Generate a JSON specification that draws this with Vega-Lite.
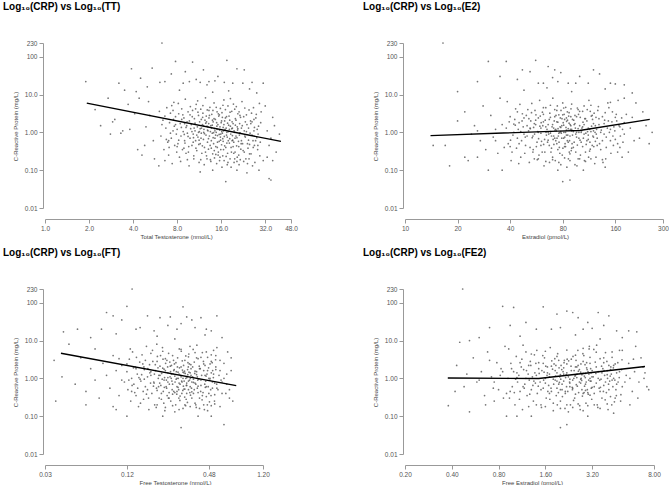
{
  "$schema": "https://vega.github.io/schema/vega-lite/v6.json",
  "padding": {"left": 3, "top": 2, "right": 0, "bottom": 0},
  "background": "white",
  "config": {
    "view": {"stroke": null},
    "font": "Liberation Sans",
    "title": {"fontSize": 10, "font": "Liberation Sans", "fontWeight": "bold", "anchor": "start", "frame": "group", "dx": -42, "offset": 28, "color": "#000"},
    "axis": {"domainColor": "#999", "tickColor": "#999", "tickSize": 4, "labelFontSize": 6.5, "labelColor": "#555", "titleFontSize": 6, "titleFontWeight": "normal", "titleColor": "#444", "labelFont": "Liberation Sans", "titleFont": "Liberation Sans", "grid": false, "labelPadding": 2, "labelFlush": false, "labelOverlap": false},
    "axisY": {"offset": 2, "titleX": -28, "titleY": 83, "titleAngle": -90, "titleBaseline": "middle", "titleAlign": "center"},
    "axisX": {"offset": 11, "titleY": 17, "titleBaseline": "middle", "titleAlign": "center"}
  },
  "datasets": {
    "tt": [
      {"x":6.3,"y":230},{"x":7.8,"y":75},{"x":10.2,"y":72},{"x":17.5,"y":80},{"x":3.9,"y":48},{"x":5.4,"y":50},{"x":12.1,"y":45},{"x":9.1,"y":40},{"x":20.5,"y":48},{"x":23,"y":45},{"x":7.3,"y":35},{"x":15.2,"y":30},{"x":4.5,"y":27},{"x":6.1,"y":21},{"x":6.6,"y":22},{"x":8.8,"y":20},{"x":9.7,"y":22},{"x":11.5,"y":21},{"x":13.2,"y":22},{"x":14.5,"y":23},{"x":16.8,"y":21},{"x":19.2,"y":20},{"x":22.5,"y":20},{"x":26,"y":21},{"x":31,"y":20},{"x":3.2,"y":20},{"x":1.9,"y":22},{"x":10.8,"y":25},{"x":12.8,"y":18},{"x":5.0,"y":16},{"x":25,"y":14},{"x":8.3,"y":13},{"x":4.2,"y":12},{"x":18,"y":12.5},{"x":28,"y":11},{"x":14,"y":11.5},{"x":2.7,"y":8},{"x":3.5,"y":13},
      {"x":17.2,"y":0.05},{"x":34,"y":0.06},{"x":35,"y":0.055},{"x":11.5,"y":0.09},{"x":24,"y":0.085},{"x":36,"y":0.18},{"x":29,"y":0.1},{"x":14,"y":0.1},{"x":6,"y":0.13},{"x":20.5,"y":0.1},
      {"x":2.8,"y":0.9},{"x":3.0,"y":2.2},{"x":2.4,"y":1.5},{"x":3.4,"y":1.1},{"x":2.9,"y":1.9},{"x":3.7,"y":5.5},{"x":4.3,"y":0.35},{"x":4.6,"y":0.25},{"x":4.8,"y":0.45},{"x":5.2,"y":2.8},{"x":4.1,"y":3.1},{"x":5.5,"y":0.6},{"x":3.8,"y":1.2},{"x":4.4,"y":8},{"x":5.1,"y":6.5},{"x":5.6,"y":0.2},{"x":4.9,"y":1.4},{"x":3.3,"y":0.95},{"x":2.2,"y":4},
      {"x":33,"y":1.1},{"x":35,"y":0.7},{"x":36,"y":2.5},{"x":32,"y":5},{"x":38,"y":0.3},{"x":34,"y":0.45},{"x":31,"y":0.18},{"x":37,"y":1.5},{"x":30,"y":3.5},{"x":33,"y":0.22},{"x":40,"y":0.9},
      {"x":6.2,"y":0.8},{"x":6.4,"y":2.1},{"x":6.5,"y":0.35},{"x":6.7,"y":1.3},{"x":6.8,"y":4.5},{"x":6.9,"y":0.55},{"x":7.0,"y":0.25},{"x":7.1,"y":1.8},{"x":7.2,"y":3.2},{"x":7.3,"y":0.7},{"x":7.4,"y":0.15},{"x":7.5,"y":1.1},{"x":7.6,"y":6.2},{"x":7.7,"y":0.45},{"x":7.8,"y":2.6},{"x":7.9,"y":0.9},{"x":6.3,"y":1.6},{"x":6.6,"y":0.18},{"x":7.05,"y":0.4},{"x":7.35,"y":5.1},{"x":7.65,"y":1.45},{"x":7.95,"y":0.3},{"x":6.05,"y":3.6},{"x":6.75,"y":0.65},{"x":7.55,"y":2.2},
      {"x":8.0,"y":1.2},{"x":8.1,"y":0.5},{"x":8.2,"y":3.1},{"x":8.3,"y":0.22},{"x":8.4,"y":1.7},{"x":8.5,"y":0.8},{"x":8.6,"y":4.2},{"x":8.7,"y":0.35},{"x":8.8,"y":1.05},{"x":8.9,"y":2.4},{"x":9.0,"y":0.6},{"x":9.1,"y":7.5},{"x":9.2,"y":0.28},{"x":9.3,"y":1.5},{"x":9.4,"y":0.95},{"x":9.5,"y":3.5},{"x":9.6,"y":0.42},{"x":9.7,"y":2.0},{"x":9.8,"y":0.7},{"x":9.9,"y":1.25},{"x":8.15,"y":5.8},{"x":8.45,"y":0.17},{"x":8.75,"y":2.9},{"x":9.05,"y":0.52},{"x":9.35,"y":1.9},{"x":9.65,"y":0.13},{"x":9.85,"y":4.8},{"x":8.55,"y":1.35},{"x":8.95,"y":0.88},{"x":9.55,"y":0.3},
      {"x":10.0,"y":1.6},{"x":10.1,"y":0.45},{"x":10.2,"y":3.8},{"x":10.3,"y":0.9},{"x":10.4,"y":0.2},{"x":10.5,"y":2.3},{"x":10.6,"y":1.1},{"x":10.7,"y":0.6},{"x":10.8,"y":5.5},{"x":10.9,"y":0.33},{"x":11.0,"y":1.4},{"x":11.1,"y":0.75},{"x":11.2,"y":2.8},{"x":11.3,"y":0.16},{"x":11.4,"y":1.9},{"x":11.5,"y":0.5},{"x":11.6,"y":4.1},{"x":11.7,"y":0.95},{"x":11.8,"y":0.28},{"x":11.9,"y":1.6},{"x":12.0,"y":3.2},{"x":12.1,"y":0.65},{"x":12.2,"y":1.2},{"x":12.3,"y":0.4},{"x":12.4,"y":2.1},{"x":12.5,"y":8.2},{"x":12.6,"y":0.85},{"x":12.7,"y":0.24},{"x":12.8,"y":1.45},{"x":12.9,"y":0.55},{"x":10.15,"y":2.6},{"x":10.45,"y":1.3},{"x":10.75,"y":0.38},{"x":11.05,"y":6.8},{"x":11.35,"y":1.05},{"x":11.65,"y":0.7},{"x":11.95,"y":2.5},{"x":12.25,"y":0.14},{"x":12.55,"y":1.75},{"x":12.85,"y":3.9},{"x":10.35,"y":0.72},{"x":11.25,"y":0.48},{"x":12.15,"y":1.0},{"x":12.65,"y":2.7},{"x":11.75,"y":1.3},
      {"x":13.0,"y":1.1},{"x":13.1,"y":0.36},{"x":13.2,"y":2.4},{"x":13.3,"y":0.8},{"x":13.4,"y":4.6},{"x":13.5,"y":0.19},{"x":13.6,"y":1.5},{"x":13.7,"y":0.6},{"x":13.8,"y":3.0},{"x":13.9,"y":0.95},{"x":14.0,"y":0.27},{"x":14.1,"y":1.9},{"x":14.2,"y":0.5},{"x":14.3,"y":6.0},{"x":14.4,"y":1.25},{"x":14.5,"y":0.7},{"x":14.6,"y":2.2},{"x":14.7,"y":0.42},{"x":14.8,"y":1.0},{"x":14.9,"y":0.15},{"x":15.0,"y":3.5},{"x":15.1,"y":0.82},{"x":15.2,"y":1.6},{"x":15.3,"y":0.3},{"x":15.4,"y":2.7},{"x":15.5,"y":0.58},{"x":15.6,"y":1.15},{"x":15.7,"y":0.22},{"x":15.8,"y":4.3},{"x":15.9,"y":0.9},{"x":16.0,"y":1.8},{"x":16.1,"y":0.47},{"x":16.2,"y":0.12},{"x":16.3,"y":2.5},{"x":16.4,"y":0.68},{"x":16.5,"y":1.35},{"x":16.6,"y":0.35},{"x":16.7,"y":7.2},{"x":16.8,"y":0.78},{"x":16.9,"y":2.0},{"x":13.15,"y":1.7},{"x":13.45,"y":0.45},{"x":13.75,"y":1.3},{"x":14.05,"y":3.8},{"x":14.35,"y":0.33},{"x":14.65,"y":0.85},{"x":14.95,"y":1.45},{"x":15.25,"y":0.25},{"x":15.55,"y":2.9},{"x":15.85,"y":0.62},{"x":16.15,"y":1.05},{"x":16.45,"y":5.2},{"x":16.75,"y":0.18},{"x":13.95,"y":2.1},{"x":15.05,"y":0.4},
      {"x":17.0,"y":1.2},{"x":17.2,"y":0.4},{"x":17.4,"y":2.6},{"x":17.6,"y":0.75},{"x":17.8,"y":0.16},{"x":18.0,"y":1.55},{"x":18.2,"y":0.52},{"x":18.4,"y":3.4},{"x":18.6,"y":0.9},{"x":18.8,"y":0.3},{"x":19.0,"y":1.9},{"x":19.2,"y":0.62},{"x":19.4,"y":5.6},{"x":19.6,"y":1.1},{"x":19.8,"y":0.2},{"x":20.0,"y":2.3},{"x":20.2,"y":0.8},{"x":20.4,"y":0.44},{"x":20.6,"y":1.4},{"x":20.8,"y":3.1},{"x":21.0,"y":0.58},{"x":21.2,"y":0.14},{"x":21.4,"y":1.7},{"x":21.6,"y":0.95},{"x":21.8,"y":0.36},{"x":17.1,"y":4.0},{"x":17.5,"y":1.0},{"x":17.9,"y":0.6},{"x":18.3,"y":2.1},{"x":18.7,"y":0.12},{"x":19.1,"y":1.3},{"x":19.5,"y":0.28},{"x":19.9,"y":0.7},{"x":20.3,"y":4.8},{"x":20.7,"y":1.15},{"x":21.1,"y":0.25},{"x":21.5,"y":2.8},{"x":21.9,"y":0.5},{"x":18.5,"y":7.8},{"x":19.3,"y":0.42},{"x":17.7,"y":1.75},{"x":20.5,"y":0.17},{"x":18.9,"y":1.25},{"x":21.3,"y":0.85},{"x":17.3,"y":0.23},
      {"x":22.0,"y":1.3},{"x":22.4,"y":0.5},{"x":22.8,"y":2.6},{"x":23.2,"y":0.8},{"x":23.6,"y":0.2},{"x":24.0,"y":1.6},{"x":24.4,"y":0.38},{"x":24.8,"y":3.9},{"x":25.2,"y":0.95},{"x":25.6,"y":0.27},{"x":26.0,"y":1.9},{"x":26.4,"y":0.6},{"x":26.8,"y":1.1},{"x":27.2,"y":0.16},{"x":27.6,"y":2.4},{"x":28.0,"y":0.72},{"x":28.4,"y":0.35},{"x":28.8,"y":1.45},{"x":29.2,"y":5.8},{"x":29.6,"y":0.55},{"x":22.2,"y":6.5},{"x":23.0,"y":0.3},{"x":23.8,"y":1.05},{"x":24.6,"y":0.62},{"x":25.4,"y":2.0},{"x":26.2,"y":0.13},{"x":27.0,"y":0.45},{"x":27.8,"y":3.0},{"x":28.6,"y":0.9},{"x":29.4,"y":0.24},{"x":25.0,"y":0.48},{"x":26.6,"y":4.5},{"x":23.4,"y":1.9},{"x":24.2,"y":0.15},{"x":28.2,"y":1.2},
      {"x":7.2,"y":0.95},{"x":7.8,"y":1.6},{"x":8.2,"y":0.62},{"x":8.6,"y":2.2},{"x":8.9,"y":0.38},{"x":9.2,"y":1.35},{"x":9.5,"y":0.78},{"x":9.8,"y":2.9},{"x":10.1,"y":1.05},{"x":10.3,"y":0.55},{"x":10.6,"y":1.75},{"x":10.9,"y":0.85},{"x":11.1,"y":3.4},{"x":11.3,"y":0.62},{"x":11.5,"y":1.25},{"x":11.7,"y":2.2},{"x":11.9,"y":0.44},{"x":12.1,"y":1.5},{"x":12.3,"y":0.92},{"x":12.5,"y":0.3},{"x":12.7,"y":1.9},{"x":12.9,"y":1.15},{"x":13.1,"y":0.68},{"x":13.3,"y":2.8},{"x":13.5,"y":1.05},{"x":13.7,"y":0.38},{"x":13.9,"y":1.55},{"x":14.1,"y":0.72},{"x":14.3,"y":2.3},{"x":14.5,"y":1.1},{"x":14.7,"y":0.26},{"x":14.9,"y":1.8},{"x":15.1,"y":0.55},{"x":15.3,"y":3.1},{"x":15.5,"y":0.88},{"x":15.7,"y":1.4},{"x":15.9,"y":0.35},{"x":16.1,"y":2.0},{"x":16.3,"y":0.95},{"x":16.5,"y":0.58},{"x":16.7,"y":1.6},{"x":16.9,"y":0.44},{"x":17.1,"y":2.4},{"x":17.3,"y":1.3},{"x":17.5,"y":0.52},{"x":17.7,"y":0.28},{"x":17.9,"y":1.05},{"x":18.1,"y":2.7},{"x":18.3,"y":0.68},{"x":18.5,"y":1.45},{"x":18.7,"y":0.4},{"x":18.9,"y":3.6},{"x":19.1,"y":0.82},{"x":19.3,"y":1.7},{"x":19.5,"y":0.55},{"x":19.7,"y":1.0},{"x":19.9,"y":0.3},{"x":20.2,"y":2.1},{"x":20.5,"y":0.72},{"x":20.8,"y":1.25},{"x":21.1,"y":0.42},{"x":21.4,"y":0.95},{"x":21.7,"y":2.5},{"x":22.0,"y":0.6},{"x":22.3,"y":1.5},{"x":22.6,"y":0.33},{"x":23.0,"y":1.1},{"x":23.4,"y":0.75},{"x":23.8,"y":2.9},{"x":24.2,"y":0.5},{"x":24.6,"y":1.3},{"x":25.0,"y":0.27},{"x":25.5,"y":1.7},{"x":26.0,"y":0.85},{"x":26.5,"y":0.4},{"x":27.0,"y":1.35},{"x":27.5,"y":0.6},{"x":10.4,"y":0.24},{"x":11.6,"y":0.19},{"x":12.8,"y":0.2},{"x":13.6,"y":0.17},{"x":14.4,"y":0.21},{"x":15.6,"y":0.18},{"x":16.4,"y":0.24},{"x":17.6,"y":0.14},{"x":18.4,"y":0.2},{"x":19.6,"y":0.16},{"x":20.6,"y":0.22},{"x":21.6,"y":0.19},{"x":22.8,"y":0.17},{"x":24.8,"y":0.2},{"x":9.4,"y":0.19},{"x":10.7,"y":4.2},{"x":12.0,"y":5.1},{"x":13.2,"y":3.8},{"x":14.8,"y":4.6},{"x":16.2,"y":3.3},{"x":17.8,"y":5.0},{"x":19.8,"y":4.1},{"x":21.2,"y":3.5},{"x":23.2,"y":4.4},{"x":25.8,"y":3.2},{"x":11.2,"y":1.0},{"x":13.0,"y":1.4},{"x":14.2,"y":0.98},{"x":15.0,"y":1.2},{"x":15.8,"y":0.75},{"x":16.6,"y":1.1},{"x":17.4,"y":0.85},{"x":18.2,"y":1.2},{"x":19.0,"y":0.6},{"x":20.0,"y":1.55},{"x":9.0,"y":1.7},{"x":8.0,"y":0.42},{"x":7.5,"y":3.8},{"x":7.0,"y":0.6},{"x":26.8,"y":2.2},{"x":28.5,"y":0.45},{"x":29.8,"y":1.8},{"x":6.6,"y":2.7}
    ],
    "e2": [
      {"x":16.5,"y":230},{"x":30,"y":75},{"x":38,"y":75},{"x":56,"y":80},{"x":47,"y":45},{"x":52,"y":40},{"x":66,"y":55},{"x":72,"y":45},{"x":78,"y":38},{"x":120,"y":45},{"x":130,"y":35},{"x":35,"y":30},{"x":26,"y":22},{"x":58,"y":20},{"x":62,"y":20},{"x":86,"y":20},{"x":95,"y":20},{"x":112,"y":20},{"x":150,"y":20},{"x":160,"y":19},{"x":180,"y":18},{"x":20,"y":12},{"x":44,"y":25},{"x":70,"y":28},{"x":75,"y":22},{"x":100,"y":30},{"x":140,"y":14},{"x":48,"y":13},{"x":90,"y":12},{"x":200,"y":11},{"x":65,"y":15},
      {"x":80,"y":0.05},{"x":88,"y":0.055},{"x":18,"y":0.13},{"x":30,"y":0.1},{"x":36,"y":0.1},{"x":14.5,"y":0.45},{"x":22,"y":0.22},{"x":26,"y":0.22},{"x":105,"y":0.1},{"x":75,"y":0.1},{"x":140,"y":0.12},
      {"x":220,"y":0.7},{"x":240,"y":1.5},{"x":250,"y":0.5},{"x":200,"y":2.5},{"x":210,"y":6},{"x":190,"y":0.3},{"x":230,"y":3.5},{"x":260,"y":1.0},{"x":180,"y":8},{"x":175,"y":0.22},
      {"x":17,"y":0.45},{"x":20,"y":2.0},{"x":22,"y":3.5},{"x":24,"y":0.9},{"x":25,"y":1.5},{"x":27,"y":0.6},{"x":28,"y":5},{"x":29,"y":0.35},{"x":31,"y":2.8},{"x":33,"y":1.2},{"x":34,"y":0.28},{"x":35,"y":8},{"x":32,"y":0.75},{"x":26,"y":1.1},{"x":37,"y":0.4},{"x":23,"y":0.18},
      {"x":38,"y":1.3},{"x":39,"y":0.5},{"x":40,"y":2.6},{"x":41,"y":0.3},{"x":42,"y":1.0},{"x":43,"y":4.2},{"x":44,"y":0.7},{"x":45,"y":1.8},{"x":46,"y":0.22},{"x":47,"y":3.1},{"x":48,"y":0.9},{"x":49,"y":0.45},{"x":50,"y":1.5},{"x":38.5,"y":6.5},{"x":39.5,"y":1.9},{"x":40.5,"y":0.18},{"x":41.5,"y":0.85},{"x":42.5,"y":2.2},{"x":43.5,"y":0.38},{"x":44.5,"y":1.2},{"x":45.5,"y":5.5},{"x":46.5,"y":0.6},{"x":47.5,"y":1.4},{"x":48.5,"y":0.28},{"x":49.5,"y":2.8},{"x":40.2,"y":0.62},{"x":42.8,"y":1.55},{"x":44.8,"y":0.15},{"x":46.8,"y":2.0},{"x":48.8,"y":0.75},
      {"x":51,"y":1.1},{"x":52,"y":0.4},{"x":53,"y":3.3},{"x":54,"y":0.8},{"x":55,"y":0.2},{"x":56,"y":1.6},{"x":57,"y":0.55},{"x":58,"y":2.4},{"x":59,"y":7.0},{"x":60,"y":0.95},{"x":61,"y":0.3},{"x":62,"y":1.9},{"x":63,"y":0.65},{"x":64,"y":4.5},{"x":65,"y":1.2},{"x":51.5,"y":0.16},{"x":52.5,"y":2.0},{"x":53.5,"y":0.72},{"x":54.5,"y":1.35},{"x":55.5,"y":3.8},{"x":56.5,"y":0.42},{"x":57.5,"y":1.05},{"x":58.5,"y":0.25},{"x":59.5,"y":2.7},{"x":60.5,"y":0.58},{"x":61.5,"y":1.5},{"x":62.5,"y":0.13},{"x":63.5,"y":2.1},{"x":64.5,"y":0.85},{"x":50.5,"y":4.0},{"x":52.2,"y":1.25},{"x":54.2,"y":0.35},{"x":56.2,"y":2.9},{"x":58.2,"y":0.68},{"x":60.2,"y":1.8},{"x":62.2,"y":0.48},{"x":64.2,"y":1.0},{"x":53.2,"y":5.8},{"x":57.2,"y":0.19},{"x":61.2,"y":3.4},{"x":55.2,"y":0.9},{"x":59.2,"y":1.45},{"x":63.2,"y":0.3},{"x":51.2,"y":2.3},{"x":65.5,"y":0.55},
      {"x":66,"y":1.6},{"x":67,"y":0.45},{"x":68,"y":2.5},{"x":69,"y":0.8},{"x":70,"y":0.22},{"x":71,"y":1.3},{"x":72,"y":4.0},{"x":73,"y":0.6},{"x":74,"y":1.9},{"x":75,"y":0.35},{"x":76,"y":2.9},{"x":77,"y":1.0},{"x":78,"y":0.14},{"x":79,"y":1.5},{"x":80,"y":6.0},{"x":81,"y":0.7},{"x":82,"y":2.2},{"x":83,"y":0.42},{"x":84,"y":1.15},{"x":85,"y":3.5},{"x":86,"y":0.55},{"x":87,"y":1.75},{"x":88,"y":0.27},{"x":89,"y":2.6},{"x":66.5,"y":0.9},{"x":67.5,"y":3.2},{"x":68.5,"y":0.3},{"x":69.5,"y":1.4},{"x":70.5,"y":0.65},{"x":71.5,"y":2.0},{"x":72.5,"y":0.18},{"x":73.5,"y":1.1},{"x":74.5,"y":5.0},{"x":75.5,"y":0.8},{"x":76.5,"y":0.4},{"x":77.5,"y":2.4},{"x":78.5,"y":0.95},{"x":79.5,"y":0.25},{"x":80.5,"y":1.8},{"x":81.5,"y":3.0},{"x":82.5,"y":0.5},{"x":83.5,"y":1.35},{"x":84.5,"y":0.12},{"x":85.5,"y":0.85},{"x":86.5,"y":2.7},{"x":87.5,"y":0.6},{"x":88.5,"y":1.2},{"x":89.5,"y":0.33},{"x":70.2,"y":8.0},{"x":75.2,"y":1.25},{"x":78.2,"y":3.8},{"x":82.2,"y":0.75},{"x":84.2,"y":1.95},{"x":86.2,"y":0.2},{"x":68.2,"y":1.05},{"x":73.2,"y":2.8},{"x":76.2,"y":0.55},{"x":80.2,"y":0.38},{"x":83.2,"y":4.6},{"x":88.2,"y":1.6},{"x":67.2,"y":0.16},{"x":71.2,"y":0.48},{"x":74.2,"y":0.7},{"x":77.2,"y":1.4},{"x":81.2,"y":1.0},{"x":85.2,"y":2.1},{"x":87.2,"y":0.3},{"x":79.2,"y":2.3},{"x":72.2,"y":1.15},{"x":89.2,"y":4.2},
      {"x":90,"y":1.1},{"x":92,"y":0.4},{"x":94,"y":2.8},{"x":96,"y":0.75},{"x":98,"y":0.2},{"x":100,"y":1.5},{"x":102,"y":0.55},{"x":104,"y":3.6},{"x":106,"y":0.9},{"x":108,"y":0.3},{"x":110,"y":2.0},{"x":112,"y":0.65},{"x":114,"y":1.2},{"x":116,"y":5.2},{"x":118,"y":0.45},{"x":120,"y":1.7},{"x":122,"y":0.15},{"x":124,"y":2.5},{"x":91,"y":0.85},{"x":93,"y":1.6},{"x":95,"y":0.3},{"x":97,"y":4.4},{"x":99,"y":1.0},{"x":101,"y":0.25},{"x":103,"y":1.3},{"x":105,"y":0.7},{"x":107,"y":2.3},{"x":109,"y":0.48},{"x":111,"y":1.05},{"x":113,"y":7.0},{"x":115,"y":0.36},{"x":117,"y":1.45},{"x":119,"y":0.8},{"x":121,"y":3.2},{"x":123,"y":0.58},{"x":125,"y":1.2},{"x":92.5,"y":2.1},{"x":96.5,"y":0.13},{"x":100.5,"y":0.62},{"x":104.5,"y":1.85},{"x":108.5,"y":0.95},{"x":112.5,"y":0.22},{"x":116.5,"y":2.7},{"x":120.5,"y":0.42},{"x":124.5,"y":0.9},{"x":94.5,"y":1.3},{"x":98.5,"y":3.0},{"x":102.5,"y":1.1},{"x":106.5,"y":0.18},{"x":110.5,"y":4.0},{"x":114.5,"y":0.55},{"x":118.5,"y":2.2},{"x":122.5,"y":1.0},{"x":90.5,"y":0.5},{"x":100.8,"y":2.5},
      {"x":126,"y":0.7},{"x":129,"y":1.6},{"x":132,"y":0.35},{"x":135,"y":2.6},{"x":138,"y":0.9},{"x":141,"y":0.2},{"x":144,"y":1.3},{"x":147,"y":4.5},{"x":150,"y":0.6},{"x":153,"y":1.9},{"x":156,"y":0.45},{"x":159,"y":1.1},{"x":162,"y":3.0},{"x":165,"y":0.3},{"x":168,"y":1.5},{"x":171,"y":0.8},{"x":174,"y":2.4},{"x":177,"y":0.55},{"x":180,"y":1.8},{"x":127,"y":3.8},{"x":130,"y":0.5},{"x":133,"y":1.15},{"x":136,"y":0.16},{"x":139,"y":2.1},{"x":142,"y":0.75},{"x":145,"y":6.0},{"x":148,"y":1.0},{"x":151,"y":0.28},{"x":154,"y":3.5},{"x":157,"y":1.4},{"x":160,"y":0.65},{"x":163,"y":2.0},{"x":166,"y":7.0},{"x":170,"y":0.4},{"x":176,"y":1.2},
      {"x":42,"y":1.65},{"x":45,"y":0.5},{"x":48,"y":2.4},{"x":50,"y":0.8},{"x":52,"y":1.3},{"x":54,"y":0.3},{"x":56,"y":2.1},{"x":58,"y":1.0},{"x":60,"y":0.45},{"x":62,"y":3.0},{"x":64,"y":1.4},{"x":66,"y":0.62},{"x":67,"y":2.2},{"x":68,"y":0.95},{"x":69,"y":0.38},{"x":70,"y":1.6},{"x":71,"y":0.8},{"x":72,"y":2.6},{"x":73,"y":1.2},{"x":74,"y":0.5},{"x":75,"y":1.85},{"x":76,"y":0.95},{"x":77,"y":0.28},{"x":78,"y":1.35},{"x":79,"y":0.7},{"x":80,"y":2.9},{"x":81,"y":1.55},{"x":82,"y":0.42},{"x":83,"y":1.0},{"x":84,"y":2.4},{"x":85,"y":0.6},{"x":86,"y":1.25},{"x":87,"y":3.3},{"x":88,"y":0.8},{"x":89,"y":1.5},{"x":90,"y":0.38},{"x":91,"y":2.2},{"x":92,"y":1.05},{"x":93,"y":0.55},{"x":94,"y":1.7},{"x":95,"y":0.9},{"x":96,"y":2.6},{"x":97,"y":0.46},{"x":98,"y":1.25},{"x":99,"y":0.7},{"x":100,"y":3.6},{"x":102,"y":1.0},{"x":104,"y":0.42},{"x":106,"y":1.6},{"x":108,"y":2.3},{"x":110,"y":0.6},{"x":112,"y":1.3},{"x":114,"y":0.32},{"x":116,"y":1.05},{"x":118,"y":2.8},{"x":120,"y":0.75},{"x":123,"y":1.5},{"x":126,"y":0.45},{"x":129,"y":2.3},{"x":132,"y":1.0},{"x":135,"y":0.6},{"x":138,"y":1.7},{"x":142,"y":0.4},{"x":146,"y":2.0},{"x":150,"y":1.2},{"x":155,"y":0.8},{"x":160,"y":2.5},{"x":165,"y":0.5},{"x":170,"y":1.4},{"x":58,"y":0.2},{"x":64,"y":0.17},{"x":70,"y":0.19},{"x":76,"y":0.16},{"x":82,"y":0.21},{"x":88,"y":0.18},{"x":94,"y":0.14},{"x":100,"y":0.2},{"x":108,"y":0.17},{"x":116,"y":0.2},{"x":124,"y":0.22},{"x":135,"y":0.19},{"x":62,"y":4.5},{"x":68,"y":5.2},{"x":74,"y":3.8},{"x":81,"y":4.4},{"x":90,"y":5.6},{"x":98,"y":4.0},{"x":106,"y":5.0},{"x":115,"y":3.6},{"x":128,"y":4.8},{"x":140,"y":3.3},{"x":150,"y":6.2},{"x":60,"y":1.3},{"x":66,"y":1.0},{"x":72,"y":0.7},{"x":78,"y":1.05},{"x":84,"y":0.85},{"x":90,"y":1.2},{"x":96,"y":1.0},{"x":104,"y":1.4},{"x":112,"y":0.85},{"x":120,"y":1.1},{"x":55,"y":1.7},{"x":46,"y":1.05},{"x":40,"y":0.42},{"x":44,"y":3.5},{"x":36,"y":1.6},{"x":33,"y":0.6},{"x":180,"y":0.9},{"x":185,"y":3.0},{"x":195,"y":1.3},{"x":205,"y":0.6}
    ],
    "ft": [
      {"x":0.131,"y":230},{"x":0.12,"y":80},{"x":0.31,"y":78},{"x":0.085,"y":55},{"x":0.095,"y":45},{"x":0.11,"y":35},{"x":0.17,"y":45},{"x":0.21,"y":40},{"x":0.25,"y":42},{"x":0.33,"y":42},{"x":0.36,"y":35},{"x":0.55,"y":45},{"x":0.42,"y":40},{"x":0.078,"y":20},{"x":0.052,"y":20},{"x":0.041,"y":17},{"x":0.14,"y":20},{"x":0.15,"y":22},{"x":0.19,"y":18},{"x":0.24,"y":25},{"x":0.28,"y":20},{"x":0.3,"y":28},{"x":0.38,"y":22},{"x":0.46,"y":20},{"x":0.5,"y":18},{"x":0.6,"y":12},{"x":0.065,"y":12},{"x":0.1,"y":15},{"x":0.2,"y":13},{"x":0.45,"y":14},{"x":0.27,"y":11},
      {"x":0.3,"y":0.05},{"x":0.62,"y":0.06},{"x":0.06,"y":0.2},{"x":0.095,"y":0.18},{"x":0.1,"y":0.15},{"x":0.07,"y":0.9},{"x":0.12,"y":0.1},{"x":0.22,"y":0.1},{"x":0.4,"y":0.1},{"x":0.5,"y":0.1},{"x":0.68,"y":0.3},
      {"x":0.036,"y":0.25},{"x":0.04,"y":1.1},{"x":0.045,"y":8},{"x":0.05,"y":0.7},{"x":0.055,"y":3.5},{"x":0.06,"y":0.45},{"x":0.065,"y":1.8},{"x":0.07,"y":6},{"x":0.075,"y":0.3},{"x":0.08,"y":2.5},{"x":0.085,"y":1.2},{"x":0.09,"y":0.55},{"x":0.095,"y":4},{"x":0.1,"y":1.6},{"x":0.105,"y":0.35},{"x":0.11,"y":2.2},{"x":0.115,"y":0.8},{"x":0.035,"y":3},
      {"x":0.6,"y":0.8},{"x":0.62,"y":2.5},{"x":0.65,"y":1.3},{"x":0.68,"y":0.5},{"x":0.7,"y":3.5},{"x":0.72,"y":0.25},{"x":0.58,"y":0.18},{"x":0.66,"y":5},{"x":0.55,"y":6.5},{"x":0.64,"y":0.4},
      {"x":0.12,"y":1.5},{"x":0.122,"y":0.5},{"x":0.125,"y":3.2},{"x":0.128,"y":0.25},{"x":0.13,"y":1.0},{"x":0.132,"y":5.0},{"x":0.135,"y":0.7},{"x":0.138,"y":2.0},{"x":0.14,"y":0.35},{"x":0.143,"y":1.3},{"x":0.146,"y":0.18},{"x":0.149,"y":2.7},{"x":0.152,"y":0.85},{"x":0.155,"y":4.2},{"x":0.158,"y":0.45},{"x":0.161,"y":1.7},{"x":0.164,"y":0.6},{"x":0.167,"y":7.0},{"x":0.17,"y":1.1},{"x":0.173,"y":0.3},{"x":0.176,"y":2.3},{"x":0.179,"y":0.75},{"x":0.124,"y":0.9},{"x":0.134,"y":1.9},{"x":0.144,"y":0.55},{"x":0.154,"y":1.25},{"x":0.164,"y":3.0},{"x":0.174,"y":0.15},{"x":0.127,"y":6.0},{"x":0.137,"y":0.42},{"x":0.147,"y":1.05},{"x":0.157,"y":2.4},{"x":0.167,"y":0.38},{"x":0.177,"y":1.4},{"x":0.131,"y":0.65},{"x":0.141,"y":3.6},{"x":0.151,"y":0.22},{"x":0.161,"y":0.95},{"x":0.171,"y":1.8},{"x":0.159,"y":0.28},
      {"x":0.18,"y":1.2},{"x":0.183,"y":0.4},{"x":0.186,"y":2.8},{"x":0.189,"y":0.8},{"x":0.192,"y":0.2},{"x":0.195,"y":1.6},{"x":0.198,"y":0.55},{"x":0.201,"y":3.8},{"x":0.204,"y":1.0},{"x":0.207,"y":0.3},{"x":0.21,"y":2.1},{"x":0.213,"y":0.65},{"x":0.216,"y":1.35},{"x":0.219,"y":6.5},{"x":0.222,"y":0.45},{"x":0.225,"y":1.75},{"x":0.228,"y":0.14},{"x":0.231,"y":2.5},{"x":0.234,"y":0.9},{"x":0.237,"y":0.35},{"x":0.24,"y":1.4},{"x":0.243,"y":4.6},{"x":0.246,"y":0.7},{"x":0.249,"y":1.1},{"x":0.252,"y":0.25},{"x":0.255,"y":2.2},{"x":0.258,"y":0.5},{"x":0.185,"y":5.5},{"x":0.191,"y":1.3},{"x":0.197,"y":0.17},{"x":0.203,"y":1.9},{"x":0.209,"y":0.75},{"x":0.215,"y":0.28},{"x":0.221,"y":3.2},{"x":0.227,"y":1.05},{"x":0.233,"y":0.6},{"x":0.239,"y":2.0},{"x":0.245,"y":0.42},{"x":0.251,"y":1.5},{"x":0.257,"y":0.85},{"x":0.188,"y":0.62},{"x":0.194,"y":2.3},{"x":0.2,"y":0.48},{"x":0.206,"y":1.2},{"x":0.212,"y":4.0},{"x":0.218,"y":0.95},{"x":0.224,"y":0.22},{"x":0.23,"y":1.6},{"x":0.236,"y":3.0},{"x":0.242,"y":0.3},{"x":0.248,"y":2.7},{"x":0.254,"y":1.0},{"x":0.26,"y":0.38},{"x":0.199,"y":8.0},{"x":0.226,"y":0.58},
      {"x":0.262,"y":1.3},{"x":0.265,"y":0.45},{"x":0.268,"y":2.4},{"x":0.271,"y":0.8},{"x":0.274,"y":0.2},{"x":0.277,"y":1.5},{"x":0.28,"y":0.6},{"x":0.283,"y":3.5},{"x":0.286,"y":1.0},{"x":0.289,"y":0.3},{"x":0.292,"y":1.9},{"x":0.295,"y":0.7},{"x":0.298,"y":1.2},{"x":0.301,"y":5.2},{"x":0.304,"y":0.4},{"x":0.307,"y":1.65},{"x":0.31,"y":0.16},{"x":0.313,"y":2.2},{"x":0.316,"y":0.85},{"x":0.319,"y":0.32},{"x":0.322,"y":1.35},{"x":0.325,"y":3.9},{"x":0.328,"y":0.65},{"x":0.331,"y":1.05},{"x":0.334,"y":0.23},{"x":0.337,"y":2.6},{"x":0.34,"y":0.5},{"x":0.343,"y":1.45},{"x":0.346,"y":0.9},{"x":0.349,"y":7.0},{"x":0.352,"y":0.36},{"x":0.355,"y":1.8},{"x":0.358,"y":0.55},{"x":0.264,"y":3.0},{"x":0.27,"y":0.13},{"x":0.276,"y":0.95},{"x":0.282,"y":2.0},{"x":0.288,"y":0.5},{"x":0.294,"y":0.26},{"x":0.3,"y":1.1},{"x":0.306,"y":2.9},{"x":0.312,"y":0.62},{"x":0.318,"y":1.55},{"x":0.324,"y":0.19},{"x":0.33,"y":0.75},{"x":0.336,"y":1.25},{"x":0.342,"y":4.4},{"x":0.348,"y":0.42},{"x":0.354,"y":2.3},{"x":0.36,"y":0.8},{"x":0.267,"y":1.7},{"x":0.279,"y":0.38},{"x":0.291,"y":6.0},{"x":0.303,"y":0.85},{"x":0.315,"y":1.4},{"x":0.327,"y":0.28},{"x":0.339,"y":2.0},{"x":0.351,"y":1.0},{"x":0.285,"y":1.45},{"x":0.309,"y":0.48},
      {"x":0.365,"y":1.1},{"x":0.37,"y":0.4},{"x":0.375,"y":2.7},{"x":0.38,"y":0.75},{"x":0.385,"y":0.2},{"x":0.39,"y":1.5},{"x":0.395,"y":0.55},{"x":0.4,"y":3.3},{"x":0.405,"y":0.95},{"x":0.41,"y":0.3},{"x":0.415,"y":1.8},{"x":0.42,"y":0.65},{"x":0.425,"y":1.2},{"x":0.43,"y":4.8},{"x":0.435,"y":0.42},{"x":0.44,"y":1.6},{"x":0.445,"y":0.15},{"x":0.45,"y":2.2},{"x":0.455,"y":0.85},{"x":0.46,"y":0.33},{"x":0.465,"y":1.3},{"x":0.47,"y":3.6},{"x":0.475,"y":0.6},{"x":0.48,"y":1.0},{"x":0.485,"y":0.24},{"x":0.49,"y":2.4},{"x":0.495,"y":0.5},{"x":0.5,"y":1.4},{"x":0.51,"y":0.8},{"x":0.52,"y":5.5},{"x":0.53,"y":0.37},{"x":0.54,"y":1.7},{"x":0.55,"y":0.55},{"x":0.368,"y":5.8},{"x":0.378,"y":1.35},{"x":0.388,"y":0.17},{"x":0.398,"y":0.9},{"x":0.408,"y":2.1},{"x":0.418,"y":0.45},{"x":0.428,"y":0.27},{"x":0.438,"y":2.8},{"x":0.448,"y":0.7},{"x":0.458,"y":1.15},{"x":0.468,"y":0.2},{"x":0.478,"y":1.9},{"x":0.488,"y":0.9},{"x":0.498,"y":0.35},{"x":0.508,"y":2.6},{"x":0.518,"y":1.05},{"x":0.528,"y":0.25},{"x":0.538,"y":3.1},{"x":0.548,"y":0.7},{"x":0.392,"y":7.5},{"x":0.452,"y":0.58},{"x":0.512,"y":1.6},
      {"x":0.15,"y":0.95},{"x":0.16,"y":2.0},{"x":0.17,"y":0.5},{"x":0.18,"y":1.5},{"x":0.19,"y":0.75},{"x":0.2,"y":2.8},{"x":0.205,"y":0.6},{"x":0.21,"y":1.2},{"x":0.215,"y":0.4},{"x":0.22,"y":1.85},{"x":0.225,"y":0.9},{"x":0.23,"y":3.3},{"x":0.235,"y":0.55},{"x":0.24,"y":1.05},{"x":0.245,"y":0.3},{"x":0.25,"y":2.1},{"x":0.255,"y":1.3},{"x":0.26,"y":0.7},{"x":0.265,"y":1.6},{"x":0.27,"y":0.42},{"x":0.275,"y":2.6},{"x":0.28,"y":1.0},{"x":0.285,"y":0.58},{"x":0.29,"y":1.3},{"x":0.295,"y":0.34},{"x":0.3,"y":2.0},{"x":0.305,"y":0.8},{"x":0.31,"y":1.45},{"x":0.315,"y":0.52},{"x":0.32,"y":3.0},{"x":0.325,"y":1.0},{"x":0.33,"y":0.4},{"x":0.335,"y":1.7},{"x":0.34,"y":0.85},{"x":0.345,"y":2.4},{"x":0.35,"y":0.6},{"x":0.355,"y":1.2},{"x":0.36,"y":0.3},{"x":0.365,"y":2.0},{"x":0.37,"y":0.95},{"x":0.375,"y":0.5},{"x":0.38,"y":1.55},{"x":0.385,"y":0.7},{"x":0.39,"y":3.5},{"x":0.395,"y":1.1},{"x":0.4,"y":0.42},{"x":0.41,"y":1.8},{"x":0.42,"y":0.9},{"x":0.43,"y":0.35},{"x":0.44,"y":2.4},{"x":0.45,"y":1.2},{"x":0.46,"y":0.6},{"x":0.47,"y":1.6},{"x":0.48,"y":0.4},{"x":0.49,"y":1.0},{"x":0.5,"y":2.8},{"x":0.51,"y":0.55},{"x":0.52,"y":1.3},{"x":0.53,"y":0.75},{"x":0.54,"y":2.0},{"x":0.56,"y":0.5},{"x":0.57,"y":1.2},{"x":0.58,"y":3.0},{"x":0.59,"y":0.9},{"x":0.2,"y":0.2},{"x":0.23,"y":0.17},{"x":0.26,"y":0.19},{"x":0.29,"y":0.15},{"x":0.32,"y":0.2},{"x":0.35,"y":0.18},{"x":0.38,"y":0.22},{"x":0.41,"y":0.16},{"x":0.44,"y":0.2},{"x":0.47,"y":0.14},{"x":0.5,"y":0.19},{"x":0.53,"y":0.21},{"x":0.18,"y":4.6},{"x":0.22,"y":5.2},{"x":0.26,"y":4.0},{"x":0.3,"y":5.8},{"x":0.34,"y":3.7},{"x":0.38,"y":4.8},{"x":0.42,"y":3.6},{"x":0.46,"y":5.0},{"x":0.5,"y":4.2},{"x":0.54,"y":4.0},{"x":0.24,"y":0.8},{"x":0.27,"y":1.15},{"x":0.29,"y":0.75},{"x":0.31,"y":1.0},{"x":0.33,"y":0.65},{"x":0.35,"y":1.4},{"x":0.37,"y":0.78},{"x":0.39,"y":1.25},{"x":0.28,"y":0.45},{"x":0.32,"y":0.52},{"x":0.36,"y":0.44},{"x":0.4,"y":0.62},{"x":0.14,"y":1.8},{"x":0.13,"y":0.45},{"x":0.12,"y":2.4},{"x":0.11,"y":0.9},{"x":0.105,"y":3.3},{"x":0.58,"y":1.6},{"x":0.6,"y":0.4},{"x":0.62,"y":1.0},{"x":0.65,"y":0.7},{"x":0.7,"y":1.6}
    ],
    "fe2": [
      {"x":0.47,"y":230},{"x":0.85,"y":80},{"x":1.0,"y":75},{"x":1.55,"y":78},{"x":2.2,"y":60},{"x":2.4,"y":55},{"x":3.5,"y":55},{"x":4.1,"y":45},{"x":1.9,"y":50},{"x":2.6,"y":40},{"x":1.2,"y":30},{"x":0.95,"y":25},{"x":3.0,"y":30},{"x":3.8,"y":25},{"x":4.6,"y":18},{"x":5.5,"y":18},{"x":6.2,"y":17},{"x":1.4,"y":20},{"x":1.75,"y":20},{"x":2.0,"y":22},{"x":2.8,"y":20},{"x":3.2,"y":21},{"x":0.7,"y":22},{"x":0.6,"y":12},{"x":0.52,"y":10},{"x":0.45,"y":9},{"x":2.5,"y":14},{"x":5,"y":12},{"x":1.1,"y":13},{"x":3.6,"y":11},
      {"x":2.0,"y":0.05},{"x":2.2,"y":0.06},{"x":0.9,"y":0.1},{"x":1.05,"y":0.1},{"x":0.38,"y":0.19},{"x":0.52,"y":0.13},{"x":0.66,"y":0.2},{"x":1.3,"y":0.1},{"x":3.0,"y":0.1},{"x":4.4,"y":0.12},{"x":0.42,"y":0.45},
      {"x":0.43,"y":2.2},{"x":0.48,"y":0.6},{"x":0.55,"y":3.5},{"x":0.58,"y":0.8},{"x":0.62,"y":1.5},{"x":0.65,"y":0.35},{"x":0.68,"y":5},{"x":0.72,"y":1.1},{"x":0.75,"y":0.25},{"x":0.78,"y":2.6},{"x":0.8,"y":0.5},{"x":0.83,"y":1.8},{"x":0.86,"y":0.3},{"x":0.88,"y":7},{"x":0.5,"y":1.3},{"x":0.6,"y":0.9},{"x":0.7,"y":3},{"x":0.74,"y":0.55},{"x":0.82,"y":1.2},{"x":0.9,"y":0.4},
      {"x":5.2,"y":0.8},{"x":5.5,"y":2.5},{"x":5.8,"y":0.45},{"x":6.0,"y":1.5},{"x":6.3,"y":0.3},{"x":6.6,"y":3.5},{"x":6.9,"y":1.0},{"x":7.2,"y":0.6},{"x":7.4,"y":0.5},{"x":5.0,"y":5.5},{"x":6.1,"y":7},{"x":5.6,"y":0.2},{"x":6.8,"y":2},
      {"x":0.92,"y":1.0},{"x":0.94,"y":0.3},{"x":0.96,"y":2.5},{"x":0.98,"y":0.6},{"x":1.0,"y":1.5},{"x":1.02,"y":0.2},{"x":1.04,"y":3.8},{"x":1.06,"y":0.8},{"x":1.08,"y":1.2},{"x":1.1,"y":0.45},{"x":1.12,"y":2.0},{"x":1.14,"y":0.15},{"x":1.16,"y":1.7},{"x":1.18,"y":0.7},{"x":1.2,"y":5.0},{"x":1.22,"y":0.35},{"x":1.24,"y":1.3},{"x":1.26,"y":0.9},{"x":1.28,"y":2.8},{"x":1.3,"y":0.5},{"x":1.32,"y":1.1},{"x":1.34,"y":0.25},{"x":1.36,"y":4.2},{"x":1.38,"y":0.75},{"x":0.93,"y":6.0},{"x":0.97,"y":1.8},{"x":1.01,"y":0.42},{"x":1.05,"y":1.05},{"x":1.09,"y":0.28},{"x":1.13,"y":3.2},{"x":1.17,"y":0.55},{"x":1.21,"y":1.6},{"x":1.25,"y":0.18},{"x":1.29,"y":2.2},{"x":1.33,"y":0.65},{"x":1.37,"y":1.4},{"x":1.03,"y":0.95},{"x":1.15,"y":7.5},{"x":1.27,"y":0.38},{"x":1.39,"y":2.5},
      {"x":1.4,"y":1.2},{"x":1.42,"y":0.4},{"x":1.45,"y":2.6},{"x":1.48,"y":0.8},{"x":1.5,"y":0.2},{"x":1.52,"y":1.6},{"x":1.55,"y":0.55},{"x":1.58,"y":3.5},{"x":1.6,"y":1.0},{"x":1.62,"y":0.3},{"x":1.65,"y":2.0},{"x":1.68,"y":0.65},{"x":1.7,"y":1.3},{"x":1.72,"y":6.5},{"x":1.75,"y":0.45},{"x":1.78,"y":1.75},{"x":1.8,"y":0.14},{"x":1.82,"y":2.4},{"x":1.85,"y":0.9},{"x":1.88,"y":0.35},{"x":1.9,"y":1.4},{"x":1.92,"y":4.5},{"x":1.95,"y":0.7},{"x":1.98,"y":1.1},{"x":2.0,"y":0.25},{"x":2.02,"y":2.2},{"x":2.05,"y":0.5},{"x":2.08,"y":1.5},{"x":2.1,"y":0.85},{"x":2.12,"y":3.0},{"x":2.15,"y":0.4},{"x":2.18,"y":1.25},{"x":1.41,"y":5.5},{"x":1.46,"y":1.35},{"x":1.51,"y":0.17},{"x":1.56,"y":0.9},{"x":1.61,"y":2.1},{"x":1.66,"y":0.45},{"x":1.71,"y":0.28},{"x":1.76,"y":2.9},{"x":1.81,"y":0.7},{"x":1.86,"y":1.15},{"x":1.91,"y":0.2},{"x":1.96,"y":1.9},{"x":2.01,"y":0.95},{"x":2.06,"y":0.33},{"x":2.11,"y":2.6},{"x":2.16,"y":1.05},{"x":2.19,"y":0.6},{"x":1.44,"y":0.62},{"x":1.54,"y":4.0},{"x":1.64,"y":1.2},{"x":1.74,"y":0.55},{"x":1.84,"y":3.3},{"x":1.94,"y":0.42},{"x":2.04,"y":1.7},{"x":2.14,"y":0.16},{"x":1.57,"y":1.45},{"x":1.87,"y":2.2},{"x":1.97,"y":0.78},
      {"x":2.2,"y":1.4},{"x":2.23,"y":0.45},{"x":2.26,"y":2.9},{"x":2.29,"y":0.8},{"x":2.32,"y":0.2},{"x":2.35,"y":1.6},{"x":2.38,"y":0.58},{"x":2.41,"y":3.8},{"x":2.44,"y":1.0},{"x":2.47,"y":0.3},{"x":2.5,"y":2.0},{"x":2.53,"y":0.68},{"x":2.56,"y":1.3},{"x":2.59,"y":5.5},{"x":2.62,"y":0.42},{"x":2.65,"y":1.7},{"x":2.68,"y":0.15},{"x":2.71,"y":2.4},{"x":2.74,"y":0.88},{"x":2.77,"y":0.34},{"x":2.8,"y":1.35},{"x":2.83,"y":4.0},{"x":2.86,"y":0.62},{"x":2.89,"y":1.05},{"x":2.92,"y":0.22},{"x":2.95,"y":2.6},{"x":2.98,"y":0.5},{"x":3.01,"y":1.5},{"x":3.04,"y":0.9},{"x":3.07,"y":7.0},{"x":3.1,"y":0.36},{"x":3.13,"y":1.8},{"x":3.16,"y":0.55},{"x":3.19,"y":1.1},{"x":2.21,"y":3.2},{"x":2.25,"y":0.13},{"x":2.3,"y":0.95},{"x":2.34,"y":2.1},{"x":2.39,"y":0.5},{"x":2.43,"y":0.26},{"x":2.48,"y":1.15},{"x":2.52,"y":3.0},{"x":2.57,"y":0.62},{"x":2.61,"y":1.55},{"x":2.66,"y":0.19},{"x":2.7,"y":0.75},{"x":2.75,"y":1.25},{"x":2.79,"y":4.5},{"x":2.84,"y":0.42},{"x":2.88,"y":2.3},{"x":2.93,"y":0.8},{"x":2.97,"y":1.7},{"x":3.02,"y":0.38},{"x":3.06,"y":6.0},{"x":3.11,"y":0.85},{"x":3.15,"y":1.4},{"x":3.18,"y":0.28},{"x":2.55,"y":2.0},{"x":2.72,"y":1.0},{"x":2.9,"y":0.48},
      {"x":3.25,"y":1.1},{"x":3.3,"y":0.4},{"x":3.35,"y":2.7},{"x":3.4,"y":0.75},{"x":3.45,"y":0.2},{"x":3.5,"y":1.5},{"x":3.55,"y":0.55},{"x":3.6,"y":3.3},{"x":3.65,"y":0.95},{"x":3.7,"y":0.3},{"x":3.75,"y":1.8},{"x":3.8,"y":0.65},{"x":3.85,"y":1.2},{"x":3.9,"y":4.8},{"x":3.95,"y":0.42},{"x":4.0,"y":1.6},{"x":4.05,"y":0.15},{"x":4.1,"y":2.2},{"x":4.15,"y":0.85},{"x":4.2,"y":0.33},{"x":4.25,"y":1.3},{"x":4.3,"y":3.6},{"x":4.35,"y":0.6},{"x":4.4,"y":1.0},{"x":4.45,"y":0.24},{"x":4.5,"y":2.4},{"x":4.55,"y":0.5},{"x":4.6,"y":1.4},{"x":4.7,"y":0.8},{"x":4.8,"y":5.5},{"x":4.9,"y":0.37},{"x":4.95,"y":1.7},{"x":3.28,"y":5.8},{"x":3.38,"y":1.35},{"x":3.48,"y":0.17},{"x":3.58,"y":0.9},{"x":3.68,"y":2.1},{"x":3.78,"y":0.45},{"x":3.88,"y":0.27},{"x":3.98,"y":2.8},{"x":4.08,"y":0.7},{"x":4.18,"y":1.15},{"x":4.28,"y":0.2},{"x":4.38,"y":1.9},{"x":4.48,"y":0.9},{"x":4.58,"y":0.35},{"x":4.68,"y":2.6},{"x":4.78,"y":1.05},{"x":4.88,"y":0.25},{"x":4.98,"y":3.1},{"x":3.42,"y":7.5},{"x":3.62,"y":0.58},{"x":3.82,"y":1.6},{"x":4.02,"y":1.0},{"x":4.22,"y":2.0},
      {"x":1.05,"y":1.4},{"x":1.15,"y":0.6},{"x":1.25,"y":2.2},{"x":1.35,"y":0.85},{"x":1.45,"y":1.8},{"x":1.5,"y":0.5},{"x":1.55,"y":2.5},{"x":1.6,"y":0.75},{"x":1.65,"y":1.4},{"x":1.7,"y":0.4},{"x":1.75,"y":2.1},{"x":1.8,"y":0.95},{"x":1.85,"y":1.6},{"x":1.9,"y":0.55},{"x":1.95,"y":3.0},{"x":2.0,"y":1.25},{"x":2.05,"y":0.7},{"x":2.1,"y":1.9},{"x":2.15,"y":0.45},{"x":2.2,"y":2.4},{"x":2.25,"y":1.1},{"x":2.3,"y":0.6},{"x":2.35,"y":3.2},{"x":2.4,"y":0.9},{"x":2.45,"y":1.6},{"x":2.5,"y":0.38},{"x":2.55,"y":1.05},{"x":2.6,"y":2.2},{"x":2.65,"y":0.8},{"x":2.7,"y":1.45},{"x":2.75,"y":0.5},{"x":2.8,"y":2.8},{"x":2.85,"y":1.15},{"x":2.9,"y":0.7},{"x":2.95,"y":1.9},{"x":3.0,"y":0.42},{"x":3.05,"y":1.3},{"x":3.1,"y":2.5},{"x":3.15,"y":0.85},{"x":3.2,"y":1.6},{"x":3.3,"y":0.6},{"x":3.4,"y":2.0},{"x":3.5,"y":1.0},{"x":3.6,"y":0.45},{"x":3.7,"y":1.4},{"x":3.8,"y":2.6},{"x":3.9,"y":0.8},{"x":4.0,"y":1.25},{"x":4.1,"y":0.5},{"x":4.2,"y":1.7},{"x":4.3,"y":0.9},{"x":4.4,"y":2.2},{"x":4.6,"y":0.7},{"x":4.8,"y":1.5},{"x":5.0,"y":0.6},{"x":5.3,"y":1.2},{"x":1.4,"y":0.2},{"x":1.6,"y":0.18},{"x":1.8,"y":0.22},{"x":2.0,"y":0.16},{"x":2.2,"y":0.2},{"x":2.4,"y":0.17},{"x":2.6,"y":0.21},{"x":2.8,"y":0.14},{"x":3.0,"y":0.19},{"x":3.3,"y":0.2},{"x":3.6,"y":0.16},{"x":4.0,"y":0.21},{"x":1.3,"y":4.4},{"x":1.6,"y":5.2},{"x":1.9,"y":3.8},{"x":2.2,"y":5.6},{"x":2.5,"y":4.1},{"x":2.8,"y":6.2},{"x":3.1,"y":3.6},{"x":3.4,"y":4.9},{"x":3.8,"y":3.5},{"x":4.3,"y":5.0},{"x":1.7,"y":1.1},{"x":1.9,"y":0.85},{"x":2.1,"y":1.3},{"x":2.3,"y":0.75},{"x":2.5,"y":1.2},{"x":2.7,"y":0.95},{"x":2.9,"y":1.35},{"x":3.1,"y":1.0},{"x":2.0,"y":0.5},{"x":2.4,"y":0.55},{"x":2.8,"y":0.4},{"x":3.2,"y":0.58},{"x":1.2,"y":1.0},{"x":1.1,"y":2.6},{"x":0.95,"y":0.45},{"x":0.85,"y":1.5},{"x":0.75,"y":0.8},{"x":5.6,"y":1.0},{"x":5.9,"y":3.2},{"x":6.4,"y":0.8},{"x":7.0,"y":1.4},{"x":4.5,"y":0.3}
    ],
    "ltt": [{"x":1.93,"y":5.9},{"x":41,"y":0.576}],
    "le2": [{"x":14,"y":0.82},{"x":75,"y":1.08},{"x":100,"y":1.12},{"x":252,"y":2.2}],
    "lft": [{"x":0.0393,"y":4.6},{"x":0.763,"y":0.64}],
    "lfe2": [{"x":0.377,"y":1.02},{"x":1.45,"y":0.99},{"x":7.0,"y":2.05}]
  },
  "concat": [
    {
      "width": 246, "height": 165,
      "title": "Log₁₀(CRP) vs Log₁₀(TT)",
      "layer": [
        {"data": {"name": "tt"}, "mark": {"type": "circle", "size": 3, "color": "#555", "opacity": 0.8},
         "encoding": {
           "x": {"field": "x", "type": "quantitative", "scale": {"type": "log", "domain": [1, 48], "nice": false}, "axis": {"title": "Total Testosterone (nmol/L)", "values": [1, 2, 4, 8, 16, 32, 48], "format": ".1f", "titleX": 131}},
           "y": {"field": "y", "type": "quantitative", "scale": {"type": "log", "domain": [0.01, 230], "nice": false}, "axis": {"title": "C-Reactive Protein (mg/L)", "values": [0.01, 0.1, 1, 10, 100, 230], "labelExpr": "datum.value < 0.05 ? '0.01' : datum.value < 0.5 ? '0.10' : datum.value < 5 ? '1.00' : datum.value < 50 ? '10.0' : datum.value < 150 ? '100' : '230'"}}
         }},
        {"data": {"name": "ltt"}, "mark": {"type": "line", "color": "#000", "strokeWidth": 1.4},
         "encoding": {"x": {"field": "x", "type": "quantitative"}, "y": {"field": "y", "type": "quantitative"}}}
      ]
    },
    {
      "width": 258, "height": 165,
      "title": "Log₁₀(CRP) vs Log₁₀(E2)",
      "layer": [
        {"data": {"name": "e2"}, "mark": {"type": "circle", "size": 3, "color": "#555", "opacity": 0.8},
         "encoding": {
           "x": {"field": "x", "type": "quantitative", "scale": {"type": "log", "domain": [10, 300], "nice": false}, "axis": {"title": "Estradiol (pmol/L)", "values": [10, 20, 40, 80, 160, 300], "format": "d", "titleX": 140}},
           "y": {"field": "y", "type": "quantitative", "scale": {"type": "log", "domain": [0.01, 230], "nice": false}, "axis": {"title": "C-Reactive Protein (mg/L)", "values": [0.01, 0.1, 1, 10, 100, 230], "labelExpr": "datum.value < 0.05 ? '0.01' : datum.value < 0.5 ? '0.10' : datum.value < 5 ? '1.00' : datum.value < 50 ? '10.0' : datum.value < 150 ? '100' : '230'"}}
         }},
        {"data": {"name": "le2"}, "mark": {"type": "line", "color": "#000", "strokeWidth": 1.4},
         "encoding": {"x": {"field": "x", "type": "quantitative"}, "y": {"field": "y", "type": "quantitative"}}}
      ]
    },
    {
      "width": 218, "height": 165,
      "title": "Log₁₀(CRP) vs Log₁₀(FT)",
      "layer": [
        {"data": {"name": "ft"}, "mark": {"type": "circle", "size": 3, "color": "#555", "opacity": 0.8},
         "encoding": {
           "x": {"field": "x", "type": "quantitative", "scale": {"type": "log", "domain": [0.03, 1.2], "nice": false}, "axis": {"title": "Free Testosterone (nmol/L)", "values": [0.03, 0.12, 0.48, 1.2], "format": ".2f", "titleX": 130}},
           "y": {"field": "y", "type": "quantitative", "scale": {"type": "log", "domain": [0.01, 230], "nice": false}, "axis": {"title": "C-Reactive Protein (mg/L)", "values": [0.01, 0.1, 1, 10, 100, 230], "labelExpr": "datum.value < 0.05 ? '0.01' : datum.value < 0.5 ? '0.10' : datum.value < 5 ? '1.00' : datum.value < 50 ? '10.0' : datum.value < 150 ? '100' : '230'"}}
         }},
        {"data": {"name": "lft"}, "mark": {"type": "line", "color": "#000", "strokeWidth": 1.4},
         "encoding": {"x": {"field": "x", "type": "quantitative"}, "y": {"field": "y", "type": "quantitative"}}}
      ]
    },
    {
      "width": 249, "height": 165,
      "title": "Log₁₀(CRP) vs Log₁₀(FE2)",
      "layer": [
        {"data": {"name": "fe2"}, "mark": {"type": "circle", "size": 3, "color": "#555", "opacity": 0.8},
         "encoding": {
           "x": {"field": "x", "type": "quantitative", "scale": {"type": "log", "domain": [0.2, 8], "nice": false}, "axis": {"title": "Free Estradiol (pmol/L)", "values": [0.2, 0.4, 0.8, 1.6, 3.2, 8], "format": ".2f", "titleX": 127}},
           "y": {"field": "y", "type": "quantitative", "scale": {"type": "log", "domain": [0.01, 230], "nice": false}, "axis": {"title": "C-Reactive Protein (mg/L)", "values": [0.01, 0.1, 1, 10, 100, 230], "labelExpr": "datum.value < 0.05 ? '0.01' : datum.value < 0.5 ? '0.10' : datum.value < 5 ? '1.00' : datum.value < 50 ? '10.0' : datum.value < 150 ? '100' : '230'"}}
         }},
        {"data": {"name": "lfe2"}, "mark": {"type": "line", "color": "#000", "strokeWidth": 1.4},
         "encoding": {"x": {"field": "x", "type": "quantitative"}, "y": {"field": "y", "type": "quantitative"}}}
      ]
    }
  ],
  "columns": 2,
  "align": "each",
  "spacing": {"row": 9, "column": 65}
}
